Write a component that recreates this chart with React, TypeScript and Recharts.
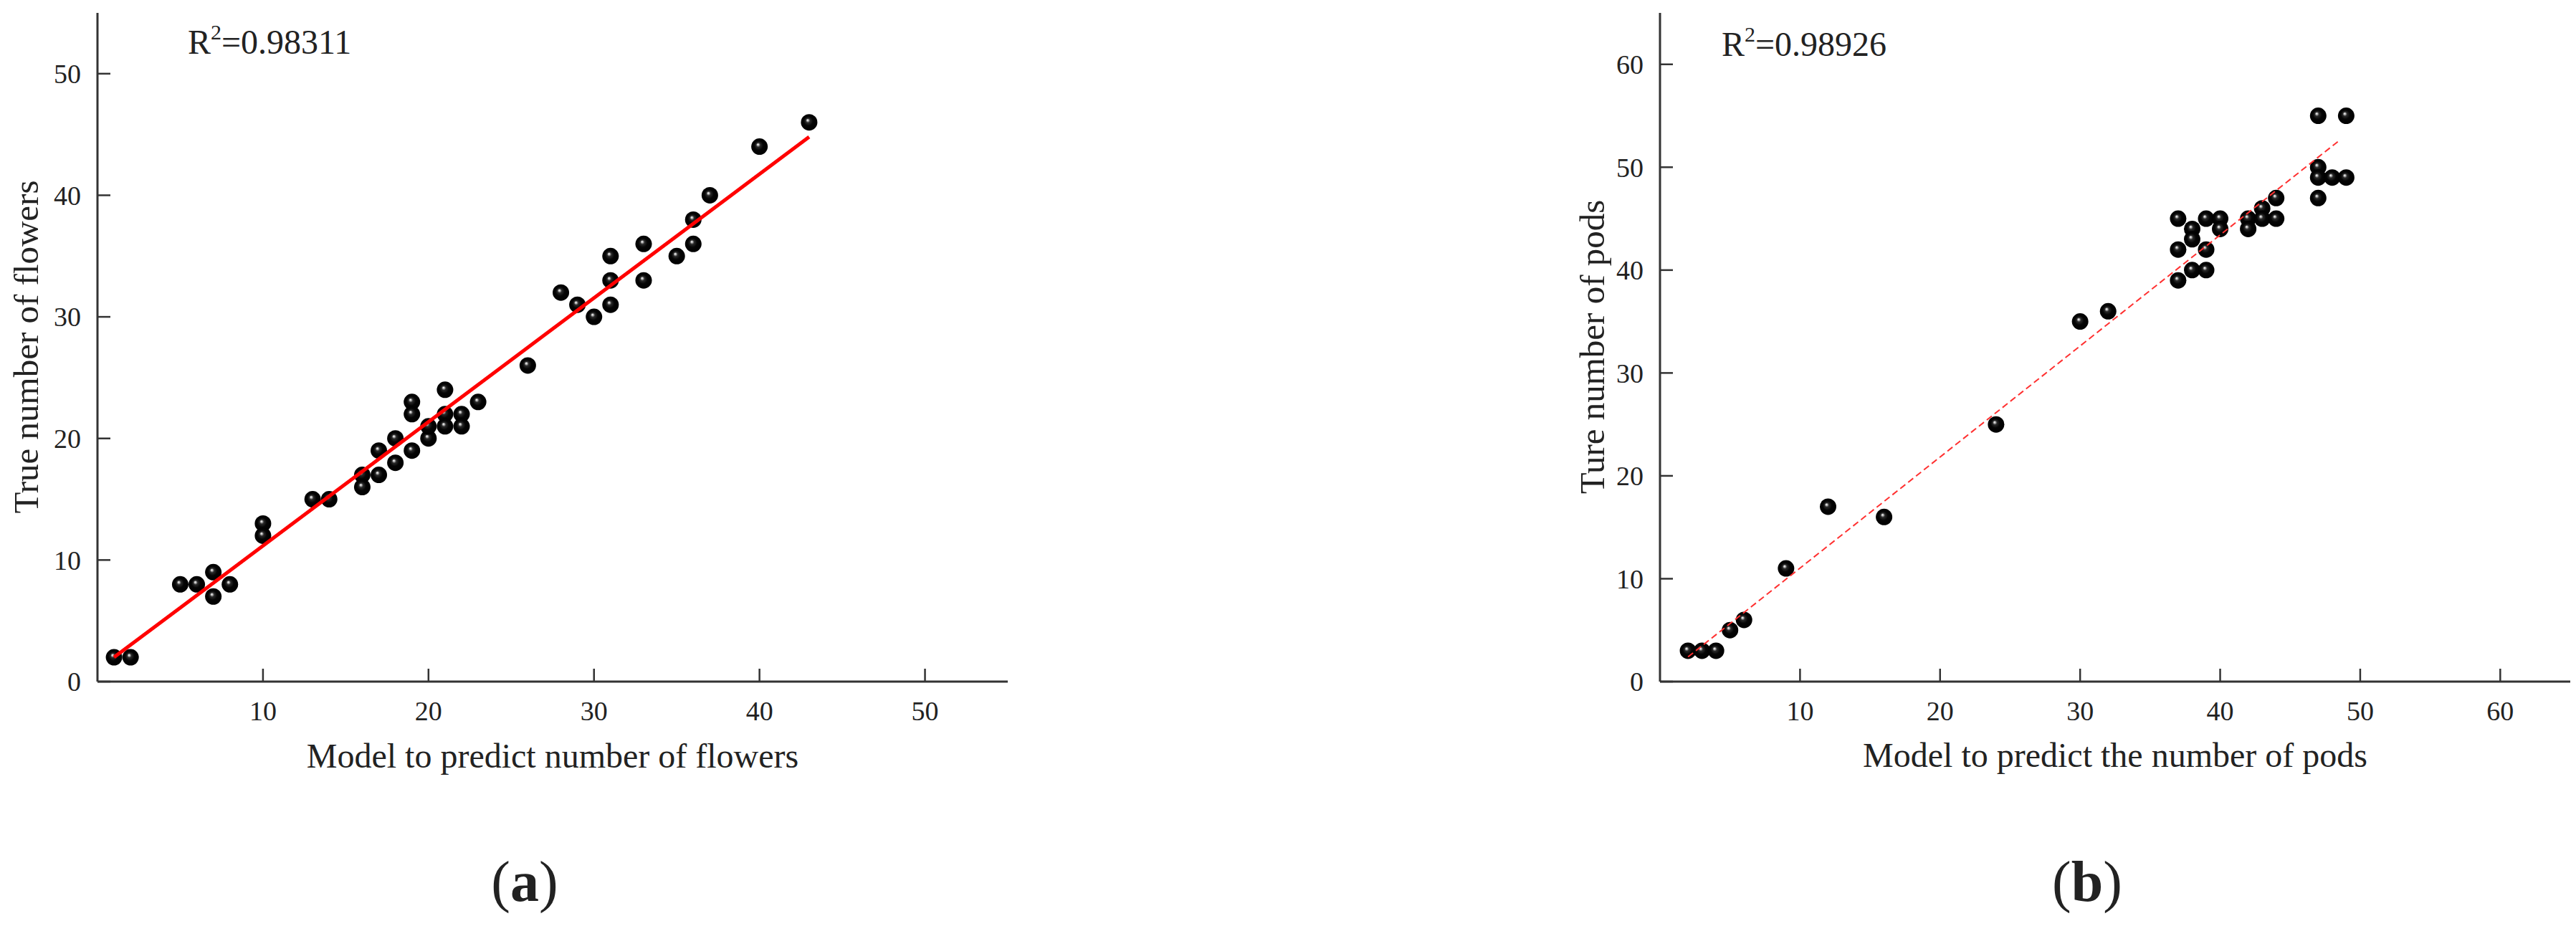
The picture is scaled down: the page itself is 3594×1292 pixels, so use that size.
import React from 'react';
import { ScatterChart, Scatter, XAxis, YAxis } from 'recharts';

// ---------- Data ----------
const flowersPredicted = [1, 2, 5, 6, 7, 7, 8, 10, 10, 13, 14, 16, 16, 17, 17, 18, 18, 19, 19, 19, 20, 20, 21, 21, 21, 22, 22, 23, 26, 28, 29, 30, 31, 31, 31, 33, 33, 35, 36, 36, 37, 40, 43];
const flowersTrue = [2, 2, 8, 8, 9, 7, 8, 13, 12, 15, 15, 17, 16, 19, 17, 20, 18, 23, 22, 19, 20, 21, 24, 22, 21, 22, 21, 23, 26, 32, 31, 30, 31, 33, 35, 36, 33, 35, 36, 38, 40, 44, 46];
const flowersFitX = [1, 43];
const flowersFitY = [2, 44.8];

const podsPredicted = [2, 3, 4, 5, 6, 9, 12, 16, 24, 30, 32, 37, 37, 37, 38, 38, 38, 39, 39, 39, 40, 40, 42, 42, 43, 43, 44, 44, 47, 47, 47, 47, 48, 49, 49];
const podsTrue = [3, 3, 3, 5, 6, 11, 17, 16, 25, 35, 36, 45, 42, 39, 44, 43, 40, 45, 42, 40, 45, 44, 45, 44, 46, 45, 47, 45, 55, 50, 49, 47, 49, 55, 49];
const podsFitX = [2, 48.6];
const podsFitY = [2.4, 52.7];

const flowersXTicks = [10, 20, 30, 40, 50];
const flowersYTicks = [0, 10, 20, 30, 40, 50];
const podsXTicks = [10, 20, 30, 40, 50, 60];
const podsYTicks = [0, 10, 20, 30, 40, 50, 60];

const r2Flowers = '0.98311';
const r2Pods = '0.98926';

// ---------- Helpers ----------
const toPoints = (xs: number[], ys: number[]) => xs.map((x, i) => ({ x, y: ys[i] }));

const FONT = '"Liberation Serif", "Times New Roman", Times, serif';
const AXIS = '#333333';
const TEXT = '#222222';

const XTick = (props: any) => {
  const { x, y, payload } = props;
  return (
    <g>
      <line x1={x} y1={y} x2={x} y2={y - 18} stroke={AXIS} strokeWidth={2.5} />
      <text x={x} y={y + 54} textAnchor="middle" fontSize={38} fill={TEXT} fontFamily={FONT}>
        {payload.value}
      </text>
    </g>
  );
};

const YTick = (props: any) => {
  const { x, y, payload } = props;
  return (
    <g>
      <line x1={x} y1={y} x2={x + 18} y2={y} stroke={AXIS} strokeWidth={2.5} />
      <text x={x - 23} y={y} dy="0.35em" textAnchor="end" fontSize={38} fill={TEXT} fontFamily={FONT}>
        {payload.value}
      </text>
    </g>
  );
};

const Ball = (props: any) => {
  const { cx, cy } = props;
  if (cx == null || cy == null) return <g />;
  return <circle cx={cx} cy={cy} r={11.5} fill="url(#ballGrad)" />;
};

const NoShape = () => <g />;

const Panel = (p: {
  width: number;
  margin: any;
  xMax: number;
  yMax: number;
  xTicks: number[];
  yTicks: number[];
  points: { x: number; y: number }[];
  fit: { x: number; y: number }[];
  fitStyle: any;
}) => (
  <ScatterChart width={p.width} height={1292} margin={p.margin}>
    <XAxis
      type="number"
      dataKey="x"
      domain={[0, p.xMax]}
      ticks={p.xTicks}
      interval={0}
      allowDataOverflow
      height={100}
      tickSize={0}
      tickMargin={0}
      tickLine={false}
      axisLine={{ stroke: AXIS, strokeWidth: 3 }}
      tick={<XTick />}
    />
    <YAxis
      type="number"
      dataKey="y"
      domain={[0, p.yMax]}
      ticks={p.yTicks}
      interval={0}
      allowDataOverflow
      width={136}
      tickSize={0}
      tickMargin={0}
      tickLine={false}
      axisLine={{ stroke: AXIS, strokeWidth: 3 }}
      tick={<YTick />}
    />
    <Scatter data={p.points} shape={<Ball />} isAnimationActive={false} />
    <Scatter data={p.fit} shape={<NoShape />} line={p.fitStyle} isAnimationActive={false} />
  </ScatterChart>
);

export default function App() {
  return (
    <div style={{ position: 'absolute', left: 0, top: 0, width: 3594, height: 1292, background: '#fff', overflow: 'hidden' }}>
      <div style={{ position: 'absolute', left: 0, top: 0 }}>
        <Panel
          width={1800}
          margin={{ top: 18, right: 394, bottom: 241, left: 0 }}
          xMax={55}
          yMax={55}
          xTicks={flowersXTicks}
          yTicks={flowersYTicks}
          points={toPoints(flowersPredicted, flowersTrue)}
          fit={toPoints(flowersFitX, flowersFitY)}
          fitStyle={{ stroke: '#ff0000', strokeWidth: 5 }}
        />
      </div>
      <div style={{ position: 'absolute', left: 1800, top: 0 }}>
        <Panel
          width={1794}
          margin={{ top: 18, right: 8, bottom: 241, left: 380 }}
          xMax={65}
          yMax={65}
          xTicks={podsXTicks}
          yTicks={podsYTicks}
          points={toPoints(podsPredicted, podsTrue)}
          fit={toPoints(podsFitX, podsFitY)}
          fitStyle={{ stroke: '#ff3030', strokeWidth: 2, strokeDasharray: '9 5' }}
        />
      </div>
      <svg
        width={3594}
        height={1292}
        style={{ position: 'absolute', left: 0, top: 0, pointerEvents: 'none' }}
        fontFamily={FONT}
        fill={TEXT}
      >
        <defs>
          <radialGradient id="ballGrad" cx="50%" cy="50%" r="50%" fx="40%" fy="36%">
            <stop offset="0%" stopColor="#ffffff" />
            <stop offset="9%" stopColor="#c8c8c8" />
            <stop offset="26%" stopColor="#2a2a2a" />
            <stop offset="55%" stopColor="#050505" />
            <stop offset="100%" stopColor="#000000" />
          </radialGradient>
        </defs>
        {/* Panel (a) texts */}
        <text x={262} y={75} fontSize={48}>
          R<tspan dy={-20} fontSize={30}>2</tspan>
          <tspan dy={20}>={r2Flowers}</tspan>
        </text>
        <text x={771} y={1071} fontSize={48} textAnchor="middle">Model to predict number of flowers</text>
        <text x={53} y={484} fontSize={49} textAnchor="middle" transform="rotate(-90, 53, 484)">True number of flowers</text>
        <text x={732} y={1257} fontSize={80} textAnchor="middle">
          (<tspan fontWeight="bold">a</tspan>)
        </text>
        {/* Panel (b) texts */}
        <text x={2402} y={78} fontSize={48}>
          R<tspan dy={-20} fontSize={30}>2</tspan>
          <tspan dy={20}>={r2Pods}</tspan>
        </text>
        <text x={2951} y={1070} fontSize={48} textAnchor="middle">Model to predict the number of pods</text>
        <text x={2238} y={484} fontSize={49} textAnchor="middle" transform="rotate(-90, 2238, 484)">Ture number of pods</text>
        <text x={2912} y={1257} fontSize={80} textAnchor="middle">
          (<tspan fontWeight="bold">b</tspan>)
        </text>
      </svg>
    </div>
  );
}
